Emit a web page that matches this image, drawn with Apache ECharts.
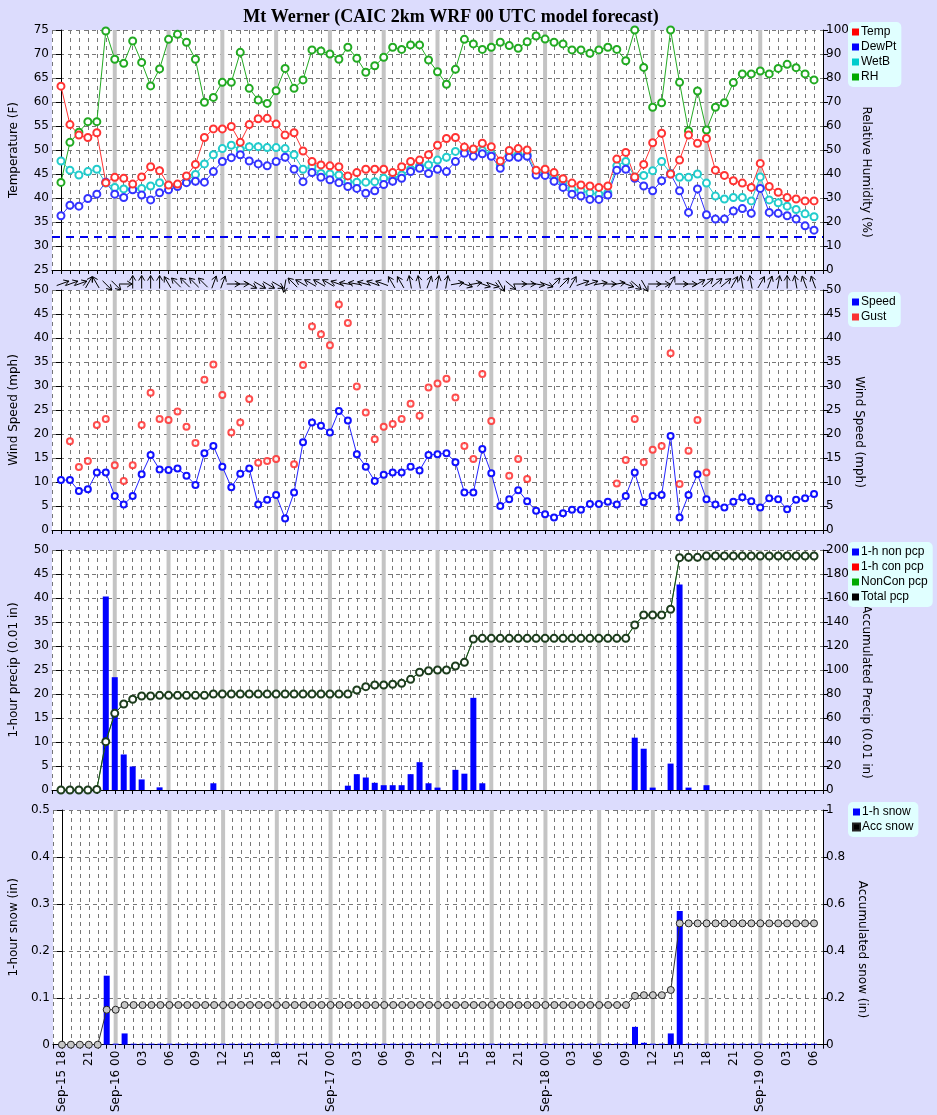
<!DOCTYPE html>
<html><head><meta charset="utf-8">
<script src="https://cdn.jsdelivr.net/npm/echarts@6/dist/echarts.min.js"></script>
<style>html,body{margin:0;padding:0;background:#dcdcfd}#c{width:937px;height:1115px}</style>
</head><body><div id="c"></div>
<script>
var hours = [];
for (var h = 0; h <= 84; h++) hours.push(h);
var tickLabels = ['Sep-15 18','21','Sep-16 00','03','06','09','12','15','18','21','Sep-17 00','03','06','09','12','15','18','21','Sep-18 00','03','06','09','12','15','18','21','Sep-19 00','03','06'];
var sixHourLines = [6,12,18,24,30,36,42,48,54,60,66,72,78];

var temp = [63.3,55.3,53.1,52.6,53.6,43.2,44.3,44.1,42.9,44.4,46.5,45.7,42.7,42.9,44.6,47.0,52.6,54.4,54.4,54.9,51.6,55.3,56.5,56.6,55.4,53.1,53.6,49.8,47.6,46.9,46.7,46.5,44.6,45.3,46.0,46.0,46.0,45.3,46.5,47.6,47.9,49.0,51.0,52.4,52.6,50.6,50.2,51.4,50.7,47.7,49.9,50.3,50.0,45.8,46.0,45.3,44.0,43.1,42.7,42.5,42.2,42.5,48.1,49.5,44.4,47.0,51.5,53.5,45.0,47.9,53.1,51.4,52.4,45.8,44.7,43.6,43.1,42.2,47.2,42.4,41.2,40.1,39.8,39.4,39.4];
var dewpt = [36.3,38.5,38.3,39.9,40.8,43.3,40.8,40.1,41.7,40.6,39.6,41.1,41.7,42.4,43.2,43.5,43.3,45.5,47.6,48.4,49.0,47.7,47.1,46.7,47.6,48.5,46.0,43.4,45.3,44.3,43.8,43.2,42.4,42.0,41.0,41.5,42.8,43.5,44.1,45.5,46.2,45.1,46.0,45.5,47.6,49.3,48.7,49.2,48.7,46.2,48.5,48.5,48.7,44.8,44.7,43.5,42.2,40.8,40.4,39.7,39.7,40.6,45.8,46.0,44.1,42.5,41.5,43.6,45.0,41.5,37.0,41.9,36.5,35.6,35.6,37.3,37.8,36.8,42.0,37.0,36.8,36.3,35.6,34.2,33.3];
var wetb = [47.7,45.8,44.8,45.5,46.0,43.1,42.2,41.9,41.9,42.0,42.5,43.2,42.6,42.6,43.4,44.9,47.1,49.0,50.3,51.0,50.1,50.7,50.7,50.5,50.5,50.3,49.0,46.0,46.5,45.1,45.0,44.8,43.4,43.3,43.3,43.4,44.1,44.1,44.8,46.0,46.7,46.9,47.9,48.5,49.7,49.7,50.0,49.9,49.2,47.0,49.1,49.0,49.0,45.5,45.1,44.2,43.4,41.8,41.5,41.1,40.8,41.1,46.7,47.6,44.4,44.7,45.7,47.6,45.1,44.3,44.3,45.0,43.1,40.4,39.8,40.1,40.1,39.4,44.4,39.6,39.0,38.3,37.6,36.7,36.1];
var rh = [36.5,53.2,57.4,61.8,61.8,99.6,87.8,86.1,95.4,86.5,76.7,83.8,96.1,98.2,94.9,87.8,69.9,71.9,78.2,78.2,90.7,75.7,70.8,69.4,74.7,84.0,75.7,79.2,91.7,91.3,90.0,87.8,92.8,88.2,82.4,85.1,88.6,92.8,91.9,93.8,93.8,87.5,82.6,77.4,83.6,96.1,94.2,91.9,92.8,94.9,93.5,92.4,95.1,97.5,96.2,94.9,94.2,91.7,91.7,90.3,91.7,92.8,91.9,87.2,100,84.4,67.8,69.7,100,78.2,57.9,74.6,58.3,67.8,69.7,78.1,81.7,81.7,82.9,81.7,84.0,85.7,84.3,81.7,79.2];
var freezing = 32;

var speed = [10.4,10.4,8.1,8.5,12.0,12.0,7.1,5.3,7.1,11.6,15.6,12.6,12.5,12.8,11.3,9.4,16.0,17.5,13.2,8.9,11.7,12.8,5.3,6.3,7.3,2.4,7.8,18.3,22.4,21.7,20.3,24.8,22.8,15.8,13.2,10.2,11.5,12.0,12.0,13.2,12.4,15.6,15.8,16.0,14.1,7.8,7.8,16.9,11.8,5.0,6.4,8.3,6.0,4.0,3.3,2.6,3.5,4.2,4.2,5.4,5.4,5.9,5.3,7.1,12.0,5.8,7.1,7.3,19.6,2.6,7.3,11.6,6.4,5.3,4.7,5.9,6.8,6.0,4.7,6.6,6.4,4.3,6.3,6.6,7.5];
var gust = [null,18.5,13.1,14.4,21.9,23.1,13.5,10.2,13.5,21.9,28.6,23.1,22.9,24.7,21.5,18.1,31.3,34.5,28.1,20.3,22.4,27.3,14.0,14.4,14.8,null,13.7,34.4,42.4,40.8,38.5,47.0,43.1,29.9,24.5,18.9,21.5,22.1,23.1,26.3,23.8,29.7,30.5,31.5,27.6,17.5,14.8,32.5,22.7,null,11.3,14.8,10.6,null,null,null,null,null,null,null,null,null,9.7,14.6,23.1,14.1,16.7,17.5,36.8,9.6,16.5,22.9,12.0,null,null,null,null,null,null,null,null,null,null,null,null];
var windDir = [20,20,20,60,120,-45,-45,0,90,90,90,90,120,135,135,135,135,70,70,0,0,-30,-30,-30,-30,-100,135,150,150,150,150,160,170,170,165,160,160,120,120,100,100,70,80,80,10,-20,10,-20,-20,-60,-40,0,0,-10,-20,45,45,60,20,20,10,0,10,-20,-40,-60,0,0,60,0,0,30,40,40,40,60,100,100,60,70,80,90,100,110,110];

var precipNon = [0,0,0,0,0,40.3,23.5,7.4,4.9,2.2,0,0.55,0,0,0,0,0,1.4,0,0,0,0,0,0,0,0,0,0,0,0,0,0,0.9,3.3,2.6,1.5,1.0,1.0,1.0,3.3,5.8,1.4,0.5,0,4.2,3.4,19.2,1.4,0,0,0,0,0,0,0,0,0,0,0,0,0,0,0,0,10.9,8.6,0.5,0,5.5,42.8,0.5,0,1.0,0,0,0,0,0,0,0,0,0,0,0,0];
var precipCon = [0,0,0,0,0,0,0,0,0,0,0,0,0,0,0,0,0,0,0,0,0,0,0,0,0,0,0,0,0,0,0,0,0,0,0,0,0,0,0,0,0,0,0,0,0,0,0,0,0,0,0,0,0,0,0,0,0,0,0,0,0,0,0,0,0,0,0,0,0,0,0,0,0,0,0,0,0,0,0,0,0,0,0,0,0];
var precipAcc = [0,0,0,0,0.5,40.3,63.9,71.7,75.6,78.3,78.3,78.9,78.9,78.9,78.9,78.9,78.9,80,80,80,80,80,80,80,80,80,80,80,80,80,80,80,80,83.3,86.1,87.5,87.5,88.1,88.9,92.2,98.1,99.4,100,100,103.3,106.4,125.8,126.4,126.4,126.4,126.4,126.4,126.4,126.4,126.4,126.4,126.4,126.4,126.4,126.4,126.4,126.4,126.4,126.4,137.5,145.8,145.8,145.8,150.6,193.6,193.9,193.9,195,195,195,195,195,195,195,195,195,195,195,195,195];

var snowHr = [0,0,0,0,0,0.147,0,0.024,0,0,0,0,0,0,0,0,0,0,0,0,0,0,0,0,0,0,0,0,0,0,0,0,0,0,0,0,0,0,0,0,0,0,0,0,0,0,0,0,0,0,0,0,0,0,0,0,0,0,0,0,0,0,0,0,0.038,0.004,0,0,0.024,0.285,0,0,0,0,0,0,0,0,0,0,0,0,0,0,0];
var snowAcc = [0,0,0,0,0,0.149,0.149,0.169,0.169,0.169,0.169,0.169,0.169,0.169,0.169,0.169,0.169,0.169,0.169,0.169,0.169,0.169,0.169,0.169,0.169,0.169,0.169,0.169,0.169,0.169,0.169,0.169,0.169,0.169,0.169,0.169,0.169,0.169,0.169,0.169,0.169,0.169,0.169,0.169,0.169,0.169,0.169,0.169,0.169,0.169,0.169,0.169,0.169,0.169,0.169,0.169,0.169,0.169,0.169,0.169,0.169,0.169,0.169,0.169,0.208,0.211,0.211,0.211,0.233,0.517,0.517,0.517,0.517,0.517,0.517,0.517,0.517,0.517,0.517,0.517,0.517,0.517,0.517,0.517,0.517];

function pairs(arr){ return arr.map(function(v,i){ return [hours[i], v]; }); }
var FONT = 'DejaVu Sans';
var tops = [30, 290, 550, 810];
var grids = tops.map(function(t){ return {left:50, right:114, top:t, height:240, show:true, backgroundColor:'#fff', borderWidth:0}; });

function xAxis(gi){
  return {
    type:'value', gridIndex:gi, min:-1, max:85, interval:1,
    axisLine:{onZero:false, lineStyle:{color:'#000'}},
    axisTick:{show:true, length:4, lineStyle:{color:'#000'}},
    splitLine:{show:true, lineStyle:{color:'#777', type:[4,4], width:1}},
    axisLabel:{show: gi===3, rotate:90, fontFamily:FONT, fontSize:12, color:'#000', margin:6,
      showMinLabel:true, showMaxLabel:true,
      formatter:function(v){ if (v<0 || v>84 || v%3!==0) return ''; return tickLabels[v/3]; }}
  };
}
function yAxis(gi, pos, min, max, interval, name, split){
  return {
    type:'value', gridIndex:gi, position:pos, min:min, max:max, interval:interval,
    name:name, nameLocation:'middle', nameGap: pos==='left'?32:30, nameRotate: pos==='left'?90:-90,
    nameTextStyle:{fontFamily:FONT, fontSize:12, color:'#000', padding: pos==='left'?0:[0,0,0,44]},
    axisLine:{show:true, lineStyle:{color:'#000'}},
    axisTick:{show:true, length:5, lineStyle:{color:'#000'}},
    axisLabel:{fontFamily:FONT, fontSize:12, color:'#000', margin:3},
    splitLine:{show:!!split, lineStyle:{color:'#777', type:[4,4]}}
  };
}

var xAxes = [xAxis(0), xAxis(1), xAxis(2), xAxis(3)];
var yAxes = [
  yAxis(0,'left',25,75,5,'Temperature (F)',true),
  yAxis(0,'right',0,100,10,'Relative Humidity (%)',false),
  yAxis(1,'left',0,50,5,'Wind Speed (mph)',true),
  yAxis(1,'right',0,50,5,'Wind Speed (mph)',false),
  yAxis(2,'left',0,50,5,'1-hour precip (0.01 in)',true),
  yAxis(2,'right',0,200,20,'Accumulated Precip (0.01 in)',false),
  yAxis(3,'left',0,0.5,0.1,'1-hour snow (in)',true),
  yAxis(3,'right',0,1,0.2,'Accumulated snow (in)',false)
];

function grayLines(gi, yi){
  return {type:'custom', xAxisIndex:gi, yAxisIndex:yi, data:sixHourLines.map(function(v){return [v, 0];}),
    z:1, silent:true, animation:false,
    renderItem:function(params, api){
      var cs = params.coordSys;
      var x = api.coord([api.value(0), 0])[0];
      return {type:'rect', shape:{x:x-2, y:cs.y, width:4, height:cs.height}, style:{fill:'#c4c4c4'}};
    }};
}
function lineS(name, data, color, gi, yi, opts){
  var s = {name:name, type:'line', xAxisIndex:gi, yAxisIndex:yi, data:pairs(data), z:3,
    symbol:'emptyCircle', symbolSize:7, showAllSymbol:true, animation:false,
    lineStyle:{color:color, width:1}, itemStyle:{color:color, borderWidth:1}};
  for (var k in opts) s[k]=opts[k];
  return s;
}

var series = [
  grayLines(0,0), grayLines(1,2), grayLines(2,4), grayLines(3,6),
  lineS('RH', rh, '#22aa22', 0, 1),
  lineS('WetB', wetb, '#22cccc', 0, 0),
  lineS('DewPt', dewpt, '#3333ff', 0, 0, {markLine:{silent:true, symbol:'none', label:{show:false}, animation:false,
      lineStyle:{color:'#0000ee', width:2, type:[8,6]}, data:[{yAxis:freezing}]}}),
  lineS('Temp', temp, '#ff3333', 0, 0),
  lineS('Speed', speed, '#2222ff', 1, 2, {symbolSize:6, itemStyle:{color:'#1111ff', borderWidth:2}}),
  {name:'Gust', type:'scatter', xAxisIndex:1, yAxisIndex:2, data:pairs(gust), symbol:'emptyCircle', symbolSize:6,
    itemStyle:{color:'#ff2222', borderWidth:2}, z:3, animation:false},
  {name:'wind', type:'custom', xAxisIndex:1, yAxisIndex:2, data:pairs(windDir), clip:false, z:4, silent:true, animation:false,
    renderItem:function(params, api){
      var p = api.coord([api.value(0), 50]);
      var a = api.value(1) * Math.PI/180, L = 13;
      var dx = Math.cos(a), dy = -Math.sin(a);
      var x0 = p[0] - dx*L*0.35, y0 = p[1] - 6 - dy*L*0.35, x1 = p[0] + dx*L*0.65, y1 = p[1] - 6 + dy*L*0.65;
      var hx1 = x1 - dx*5 + dy*3, hy1 = y1 - dy*5 - dx*3;
      var hx2 = x1 - dx*5 - dy*3, hy2 = y1 - dy*5 + dx*3;
      return {type:'group', children:[
        {type:'line', shape:{x1:x0,y1:y0,x2:x1,y2:y1}, style:{stroke:'#000', lineWidth:1}},
        {type:'polyline', shape:{points:[[hx1,hy1],[x1,y1],[hx2,hy2]]}, style:{stroke:'#000', lineWidth:1, fill:null}}
      ]};
    }},
  {name:'1-h non pcp', type:'bar', xAxisIndex:2, yAxisIndex:4, data:pairs(precipNon), barWidth:6, z:3, animation:false,
    itemStyle:{color:'#0000ff'}},
  {name:'1-h con pcp', type:'bar', xAxisIndex:2, yAxisIndex:4, data:pairs(precipCon), barWidth:6, barGap:'-100%', z:3, animation:false,
    itemStyle:{color:'#ff0000'}},
  lineS('NonCon pcp', precipAcc, '#22aa22', 2, 5, {symbol:'none'}),
  lineS('Total pcp', precipAcc, '#000000', 2, 5, {symbolSize:7, z:4, lineStyle:{color:'#1d3d1d', width:1},
    itemStyle:{color:'#1d3d1d', borderWidth:1}}),
  {name:'1-h snow', type:'bar', xAxisIndex:3, yAxisIndex:6, data:pairs(snowHr), barWidth:6, barMinHeight:1, z:3, animation:false,
    itemStyle:{color:'#0000ff'}},
  lineS('Acc snow', snowAcc, '#000000', 3, 7, {symbol:'circle', symbolSize:7, z:4,
    lineStyle:{color:'#333', width:1}, itemStyle:{color:'#c8c8c8', borderColor:'#222', borderWidth:1}})
];

function legend(top, names, colors){
  return {left:848, top:top, orient:'vertical', backgroundColor:'#e0ffff', borderRadius:5, padding:[4,5,4,4],
    itemGap:3, itemWidth:7, itemHeight:7, icon:'rect', selectedMode:false,
    textStyle:{fontFamily:'Liberation Sans', fontSize:12, color:'#000', padding:[0,0,0,-3]},
    data: names.map(function(n,i){ return {name:n, itemStyle:{color:colors[i]}}; })};
}

var chart = echarts.init(document.getElementById('c'), null, {renderer:'canvas'});
chart.setOption({
  backgroundColor:'#dcdcfd',
  animation:false,
  title:{text:'Mt Werner (CAIC 2km WRF 00 UTC model forecast)', left:446, textAlign:'center', top:3,
    textStyle:{fontFamily:'Liberation Serif', fontWeight:'bold', fontSize:18, color:'#000'}},
  grid:grids,
  xAxis:xAxes, yAxis:yAxes,
  legend:[
    legend(22, ['Temp','DewPt','WetB','RH'], ['#ff0000','#0000ff','#00cccc','#00aa00']),
    legend(292, ['Speed','Gust'], ['#0000ff','#ff0000']),
    legend(542, ['1-h non pcp','1-h con pcp','NonCon pcp','Total pcp'], ['#0000ff','#ff0000','#00aa00','#000000']),
    legend(802, ['1-h snow','Acc snow'], ['#0000ff','#000000'])
  ],
  series:series
});
</script></body></html>
